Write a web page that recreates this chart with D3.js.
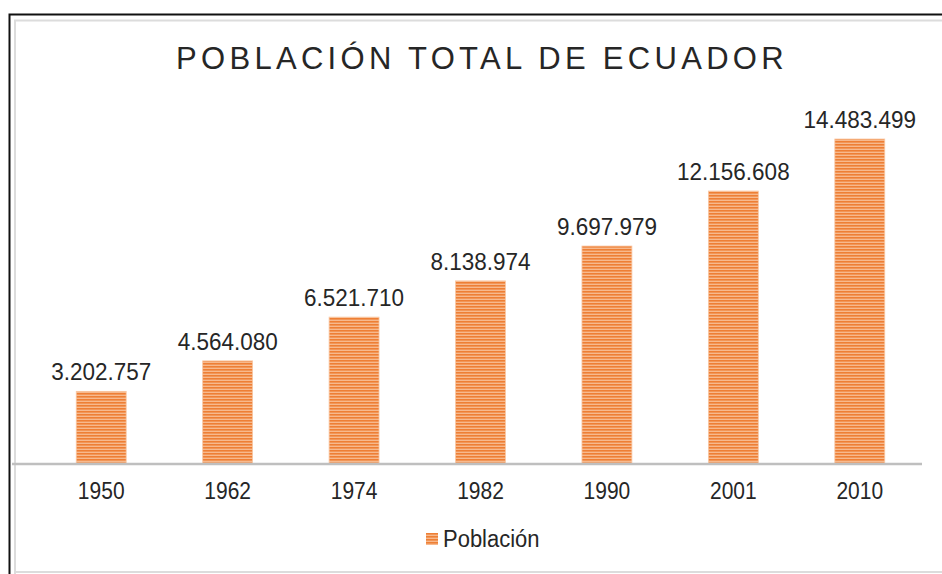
<!DOCTYPE html>
<html>
<head>
<meta charset="utf-8">
<script src="https://cdn.jsdelivr.net/npm/d3@7"></script>
<style>
  body { margin: 0; background: #fff; }
  text { font-family: "Liberation Sans", Arial, sans-serif; fill: #262626; }
</style>
</head>
<body>
<div id="chart"></div>
<script>
// data
var years = ["1950", "1962", "1974", "1982", "1990", "2001", "2010"];
var poblacion = [3202757, 4564080, 6521710, 8138974, 9697979, 12156608, 14483499];
var serieName = "Población";
var title = "POBLACIÓN TOTAL DE ECUADOR";

var width = 942, height = 574;
var baseY = 463, topY = 139;

var svg = d3.select("#chart").append("svg")
    .attr("width", width)
    .attr("height", height);

// frame: black outer line + light grey inner line
svg.append("path")
    .attr("d", "M9.5,574 V14.5 H942")
    .attr("fill", "none").attr("stroke", "#111").attr("stroke-width", 2);
svg.append("path")
    .attr("d", "M15,574 V20.5 H942 M15,572 H942")
    .attr("fill", "none").attr("stroke", "#dcdcdc").attr("stroke-width", 2);

// striped fill for the bars
var pat = svg.append("defs").append("pattern")
    .attr("id", "stripes")
    .attr("patternUnits", "userSpaceOnUse")
    .attr("width", 6).attr("height", 3);
pat.append("rect").attr("width", 6).attr("height", 3).attr("fill", "#f7b98d");
pat.append("rect").attr("width", 6).attr("height", 1.6).attr("fill", "#ee7f35");

// scales
var x = d3.scaleBand()
    .domain(years)
    .range([38, 923])
    .paddingInner(0.605)
    .paddingOuter(0.3025);

var y = d3.scaleLinear()
    .domain([0, d3.max(poblacion)])
    .range([baseY, topY]);

var data = years.map(function(d, i) { return {year: d, value: poblacion[i]}; });

// title
svg.append("text")
    .attr("x", 482)
    .attr("y", 69)
    .attr("text-anchor", "middle")
    .style("font-size", "31px")
    .style("letter-spacing", "4.3px")
    .text(title);

// bars
svg.selectAll(".bar")
    .data(data)
    .enter().append("rect")
    .attr("class", "bar")
    .attr("x", function(d) { return x(d.year); })
    .attr("width", x.bandwidth())
    .attr("y", function(d) { return y(d.value); })
    .attr("height", function(d) { return baseY - y(d.value); })
    .attr("fill", "url(#stripes)")
    .attr("stroke", "#f9c7a3")
    .attr("stroke-width", 0.8);

// value labels (glyphs a bit taller than wide, like the original)
var fmt = function(v) { return d3.format(",")(v).replace(/,/g, "."); };
svg.selectAll(".lbl")
    .data(data)
    .enter().append("text")
    .attr("class", "lbl")
    .attr("transform", function(d) {
      return "translate(" + (x(d.year) + x.bandwidth() / 2) + "," + (y(d.value) - 11) + ") scale(1,1.1)";
    })
    .attr("text-anchor", "middle")
    .style("font-size", "22.5px")
    .text(function(d) { return fmt(d.value); });

// x axis
var xAxis = svg.append("g")
    .attr("transform", "translate(0," + baseY + ")")
    .call(d3.axisBottom(x).tickSize(0).tickPadding(0));
xAxis.select(".domain").remove();
xAxis.selectAll("text")
    .attr("y", null).attr("dy", null)
    .attr("transform", "translate(0,36) scale(1,1.1)")
    .style("font-size", "21px")
    .style("font-family", "'Liberation Sans', Arial, sans-serif")
    .attr("fill", "#262626");
svg.append("line")
    .attr("x1", 12).attr("x2", 922)
    .attr("y1", baseY + 1).attr("y2", baseY + 1)
    .attr("stroke", "#bfbfbf").attr("stroke-width", 2.5);

// legend
var legend = svg.append("g").attr("transform", "translate(426,533)");
legend.append("rect")
    .attr("width", 12).attr("height", 12)
    .attr("fill", "url(#stripes)");
legend.append("text")
    .attr("transform", "translate(17,13.5) scale(1,1.1)")
    .style("font-size", "22px")
    .text(serieName);
</script>
</body>
</html>
